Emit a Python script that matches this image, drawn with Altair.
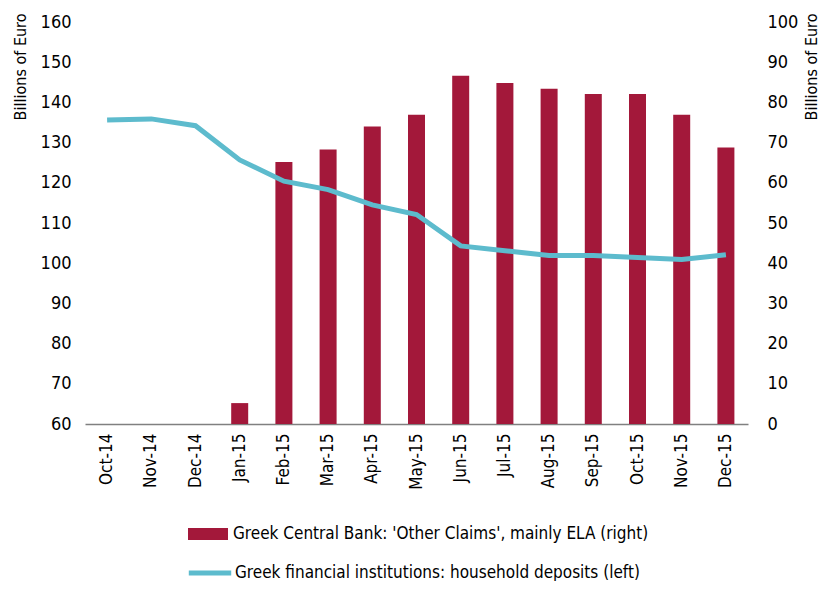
import altair as alt
import pandas as pd

months = ["Oct-14", "Nov-14", "Dec-14", "Jan-15", "Feb-15", "Mar-15", "Apr-15",
          "May-15", "Jun-15", "Jul-15", "Aug-15", "Sep-15", "Oct-15", "Nov-15", "Dec-15"]
ela = [None, None, None, 5.2, 65.2, 68.3, 74.0, 76.9, 86.6, 84.8, 83.4, 82.1, 82.1, 76.9, 68.8]
deposits = [135.6, 135.9, 134.2, 125.7, 120.4, 118.3, 114.5, 112.1, 104.3, 103.1,
            101.9, 101.9, 101.4, 100.9, 102.1]

bar_label = "Greek Central Bank: 'Other Claims', mainly ELA (right)"
line_label = "Greek financial institutions: household deposits (left)"

df = pd.DataFrame({"month": months, "ela": ela, "deposits": deposits,
                   "bar_s": bar_label, "line_s": line_label})

FONT = "DejaVu Sans Condensed"
RED = "#A3183A"
BLUE = "#5DBBCD"

x = alt.X("month:N", sort=months, title=None,
          scale=alt.Scale(paddingInner=0.6, paddingOuter=0.3),
          axis=alt.Axis(labelAngle=-90, labelFontSize=17, labelFont=FONT, labelColor="#000",
                        ticks=False, domainColor="#808080", domainWidth=1.5, labelPadding=9))

common_axis = dict(grid=False, ticks=False, domain=False, labelFontSize=18, labelFont=FONT,
                   labelColor="#000", titleFont=FONT, titleFontSize=16, titleFontWeight="normal",
                   titleColor="#000", titleAngle=270, titleAlign="right", titleBaseline="bottom",
                   titleY=-9, title="Billions of Euro")

bars = alt.Chart(df).transform_filter("datum.ela != null").mark_bar(color=RED, size=17).encode(
    x=x,
    y=alt.Y("ela:Q", scale=alt.Scale(domain=[0, 100]),
            axis=alt.Axis(orient="right", values=list(range(0, 101, 10)), titleX=71,
                          labelAlign="left", labelPadding=19, **common_axis)),
    fill=alt.Fill("bar_s:N", scale=alt.Scale(domain=[bar_label], range=[RED]),
                  legend=alt.Legend(title=None, orient="none", legendX=103, legendY=492,
                                    symbolType="M-1,-0.3H1V0.3H-1Z", symbolSize=1600,
                                    labelFontSize=17, labelFont=FONT, labelColor="#000",
                                    symbolStrokeWidth=0, labelOffset=5, labelLimit=700)),
)

line = alt.Chart(df).mark_line(color=BLUE, strokeWidth=5).encode(
    x=x,
    y=alt.Y("deposits:Q", scale=alt.Scale(domain=[60, 160]),
            axis=alt.Axis(orient="left", values=list(range(60, 161, 10)), titleX=-57,
                          labelPadding=14, **common_axis)),
    stroke=alt.Stroke("line_s:N", scale=alt.Scale(domain=[line_label], range=[BLUE]),
                      legend=alt.Legend(title=None, orient="none", legendX=101, legendY=527,
                                        symbolType="stroke", symbolSize=1800, symbolStrokeWidth=5,
                                        labelFontSize=17, labelFont=FONT, labelColor="#000",
                                        labelOffset=1, labelLimit=700)),
)

chart = alt.layer(bars, line).resolve_scale(
    y="independent", fill="independent", stroke="independent"
).properties(
    width=663, height=402, autosize=alt.AutoSizeParams(type="none"),
    padding={"left": 77, "top": 14, "right": 73, "bottom": 157},
).configure_view(stroke=None)

chart.save("out.html", embed_options={"renderer": "svg", "actions": False})
